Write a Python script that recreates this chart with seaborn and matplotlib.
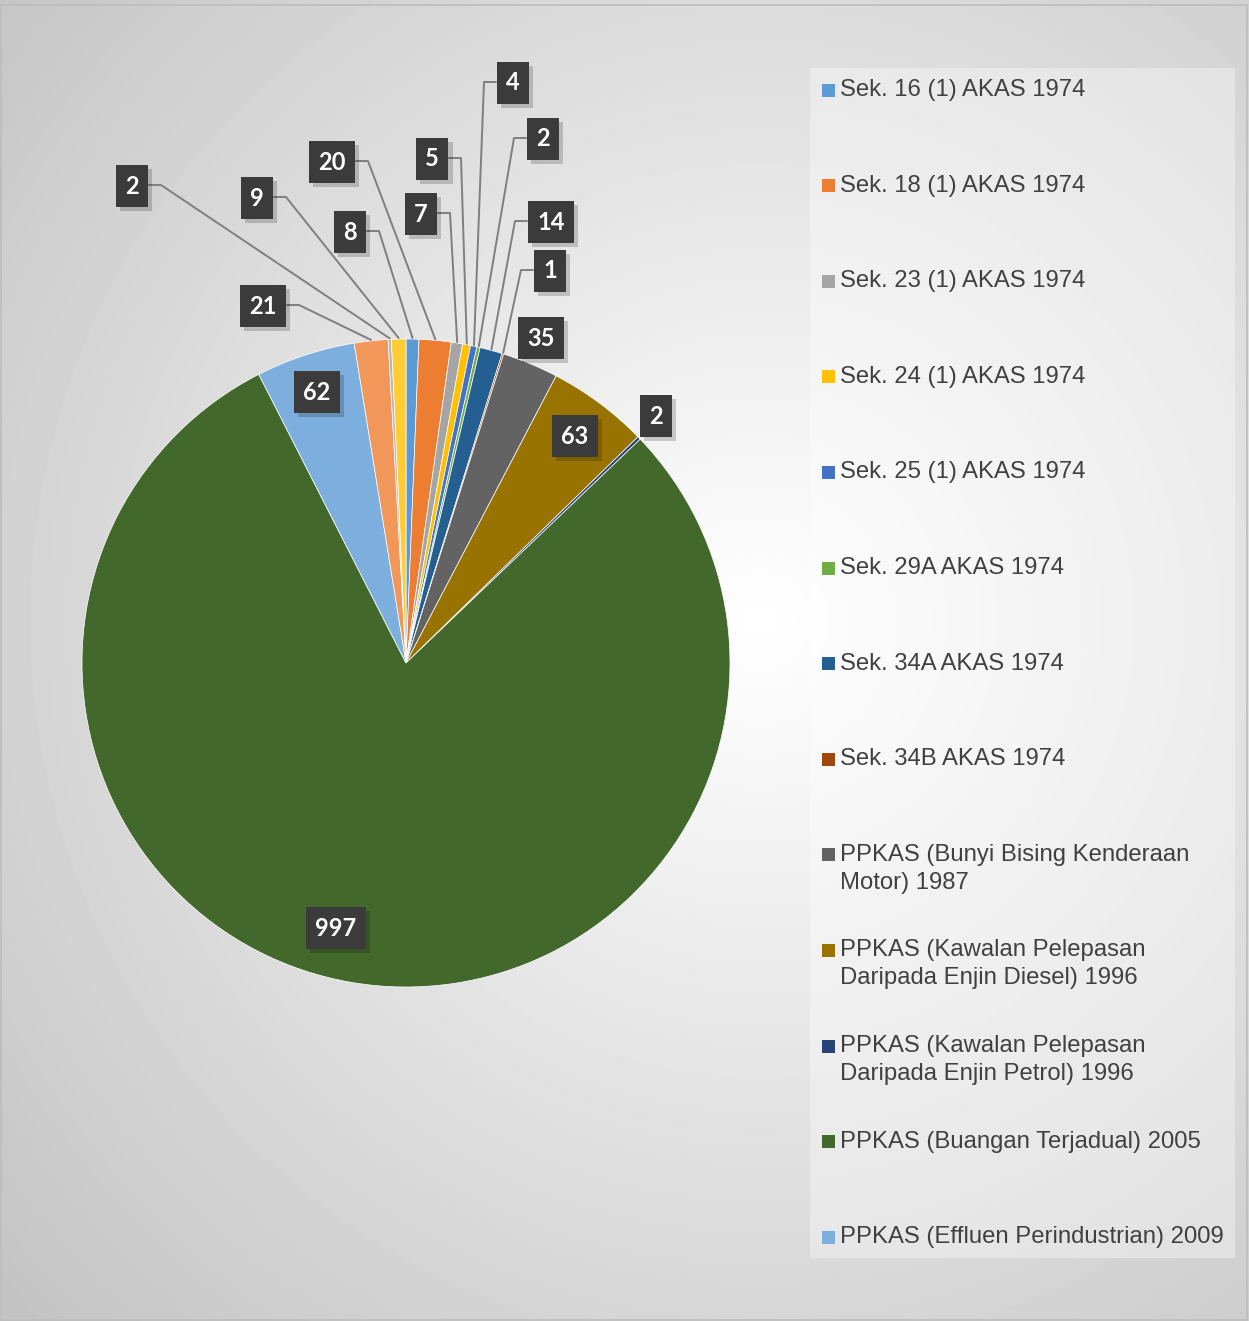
import numpy as np
import matplotlib
matplotlib.use("Agg")
import matplotlib.pyplot as plt
import matplotlib.patheffects as pe
import seaborn as sns
from matplotlib.patches import Rectangle

# legend entries (the last three slices of the pie are not listed in the legend)
legend_labels = [
    "Sek. 16 (1) AKAS 1974",
    "Sek. 18 (1) AKAS 1974",
    "Sek. 23 (1) AKAS 1974",
    "Sek. 24 (1) AKAS 1974",
    "Sek. 25 (1) AKAS 1974",
    "Sek. 29A AKAS 1974",
    "Sek. 34A AKAS 1974",
    "Sek. 34B AKAS 1974",
    "PPKAS (Bunyi Bising Kenderaan\nMotor) 1987",
    "PPKAS (Kawalan Pelepasan\nDaripada Enjin Diesel) 1996",
    "PPKAS (Kawalan Pelepasan\nDaripada Enjin Petrol) 1996",
    "PPKAS (Buangan Terjadual) 2005",
    "PPKAS (Effluen Perindustrian) 2009",
]
values = [8, 20, 7, 5, 4, 2, 14, 1, 35, 63, 2, 997, 62, 21, 2, 9]
slice_colors = ["#5B9BD5", "#ED7D31", "#A5A5A5", "#FFC000", "#4472C4", "#70AD47",
                "#255E91", "#9E480E", "#636363", "#997300", "#264478", "#43682B",
                "#7CAFDD", "#F1975A", "#B7B7B7", "#FFCD33"]

# label placement in pixels from top-left, and side the leader line leaves from
label_pos = [(350, 232), (332, 162), (421, 214), (432, 159), (513, 83), (543, 139),
             (551, 222), (550, 271), (541, 338), (575, 436), (656, 416), (336, 928),
             (317, 392), (263, 306), (132, 186), (257, 198)]
leader = ["r", "r", "r", "r", "l", "l", "l", "l", None, None, None, None,
          None, "r", "r", "r"]

W, H = 1249, 1321
sns.set_style("white")
plt.rcParams['font.family'] = ['Liberation Sans', 'DejaVu Sans']

fig = plt.figure(figsize=(W / 100, H / 100), dpi=100)
ax = fig.add_axes([0, 0, 1, 1])

# radial grey background
yy, xx = np.mgrid[0:H, 0:W]
d = np.hypot(xx - 760, yy - 620) / 1000
shade = 1 - 0.23 * np.clip(d, 0, 1.2)
ax.imshow(shade, cmap='gray', vmin=0, vmax=1, extent=[0, W, 0, H],
          origin='upper', zorder=0, interpolation='bilinear')

# pie
cx, cy, R = 406, H - 663, 324
ax.pie(values, colors=slice_colors, startangle=90, counterclock=False,
       center=(cx, cy), radius=R, frame=True,
       wedgeprops=dict(edgecolor='white', linewidth=0.5, zorder=2))

total = sum(values)
cum = np.cumsum([0] + values)
shadow = [pe.withSimplePatchShadow(offset=(3, -3), shadow_rgbFace='black', alpha=0.18)]
for i, v in enumerate(values):
    mid = (cum[i] + v / 2) / total * 360
    lx, ly = label_pos[i]
    ly = H - ly
    half = 15 if v < 10 else 22
    if leader[i]:
        sx = lx + half + 2 if leader[i] == "r" else lx - half - 2
        kx = sx + 12 if leader[i] == "r" else sx - 12
        ex = cx + (R + 1) * np.sin(np.radians(mid))
        ey = cy + (R + 1) * np.cos(np.radians(mid))
        ax.plot([sx, kx, ex], [ly + 1, ly + 1, ey], color='#7f7f7f', lw=1.4, zorder=3)
    ax.text(lx, ly, str(v), fontsize=17, fontweight='bold', family='Lato',
            color='white', ha='center', va='center',
            bbox=dict(boxstyle='square,pad=0.4', fc='#3b3b3b', ec='none',
                      path_effects=shadow),
            zorder=5)

# legend panel
ax.add_patch(Rectangle((810, H - 1258), 425, 1190, fc='white', ec='none',
                       alpha=0.35, zorder=1))
for i, lab in enumerate(legend_labels):
    y = 90 + i * 95.6
    ax.add_patch(Rectangle((822, H - y - 6.5), 13, 13, fc=slice_colors[i],
                           ec='none', zorder=3))
    for j, line in enumerate(lab.split("\n")):
        ax.text(840, H - y - j * 28, line, fontsize=17.2, color='#404040',
                ha='left', va='center', zorder=3)

# outer border
ax.add_patch(Rectangle((1, 1), W - 3, H - 6, fc='none', ec='#bdbdbd', lw=1.2,
                       zorder=6))

ax.set_xlim(0, W)
ax.set_ylim(0, H)
ax.set_aspect('equal')
ax.axis('off')

fig.savefig('out.png', dpi=100)
